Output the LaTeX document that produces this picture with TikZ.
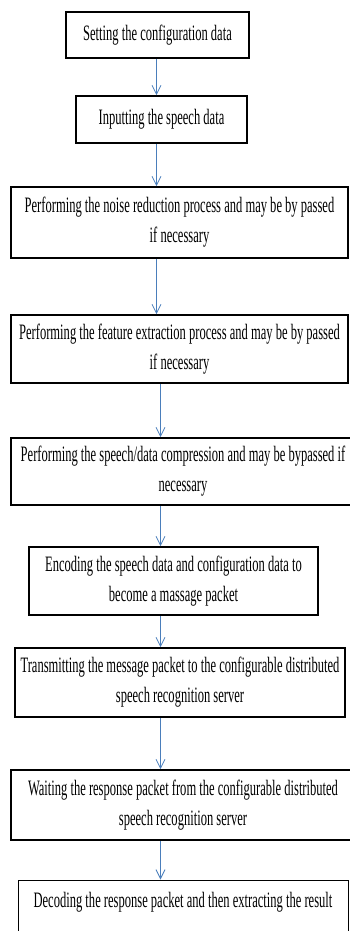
\documentclass[tikz,border=0pt]{standalone}
\usepackage{fontspec}
\newfontfamily\boxfont[FakeStretch=0.57]{Liberation Serif}
\usetikzlibrary{
  arrows.meta,
  calc,
  positioning
}
\definecolor{flowblue}{HTML}{4A7EBB}
\tikzset{
  stepbox/.style={draw, line width=1.6pt, align=center, inner sep=0pt,
    font=\boxfont\fontsize{22}{30}\selectfont},
  flow/.style={draw=flowblue, line width=0.8pt,
    -{Straight Barb[length=9pt,width=9pt]}}
}

\begin{document}
\begin{tikzpicture}[x=1pt,y=-1pt]
  \useasboundingbox (0,0) rectangle (350,931);
  % the steps, top to bottom
  \node[stepbox, minimum width=183pt, minimum height=46pt] (s1) at (157.5,35) {Setting the configuration data};
  \node[stepbox, minimum width=171pt, minimum height=47pt] (s2) at (161.5,119.5) {Inputting the speech data};
  \node[stepbox, minimum width=337pt, minimum height=71pt] (s3) at (179.5,222.5) {Performing the noise reduction process and may be by passed\\if necessary};
  \node[stepbox, minimum width=337pt, minimum height=68pt] (s4) at (179.5,349) {Performing the feature extraction process and may be by passed\\if necessary};
  \node[stepbox, minimum width=344pt, minimum height=67pt] (s5) at (183,471.5) {Performing the speech/data compression and may be bypassed if\\necessary};
  \node[stepbox, minimum width=289pt, minimum height=68pt] (s6) at (173.5,581) {Encoding the speech data and configuration data to\\become a massage packet};
  \node[stepbox, minimum width=330pt, minimum height=69pt] (s7) at (180,682.5) {Transmitting the message packet to the configurable distributed\\speech recognition server};
  \node[stepbox, minimum width=344pt, minimum height=70pt] (s8) at (183,805) {Waiting the response packet from the configurable distributed\\speech recognition server};
  \node[stepbox, line width=1pt, minimum width=330pt, minimum height=70pt] (s9) at (183,915) {Decoding the response packet and then extracting the result\\~};

  % arrows
  \coordinate (upper) at (156.5,0);
  \coordinate (lower) at (160.5,0);
  \draw[flow] (s1.south -| upper) -- (s2.north -| upper);
  \draw[flow] (s2.south -| upper) -- (s3.north -| upper);
  \draw[flow] (s3.south -| upper) -- (s4.north -| upper);
  \draw[flow] (s4.south -| lower) -- (s5.north -| lower);
  \draw[flow] (s5.south -| lower) -- (s6.north -| lower);
  \draw[flow] (s6.south -| lower) -- (s7.north -| lower);
  \draw[flow] (s7.south -| lower) -- (s8.north -| lower);
  \draw[flow] (s8.south -| lower) -- (s9.north -| lower);
\end{tikzpicture}
\end{document}
